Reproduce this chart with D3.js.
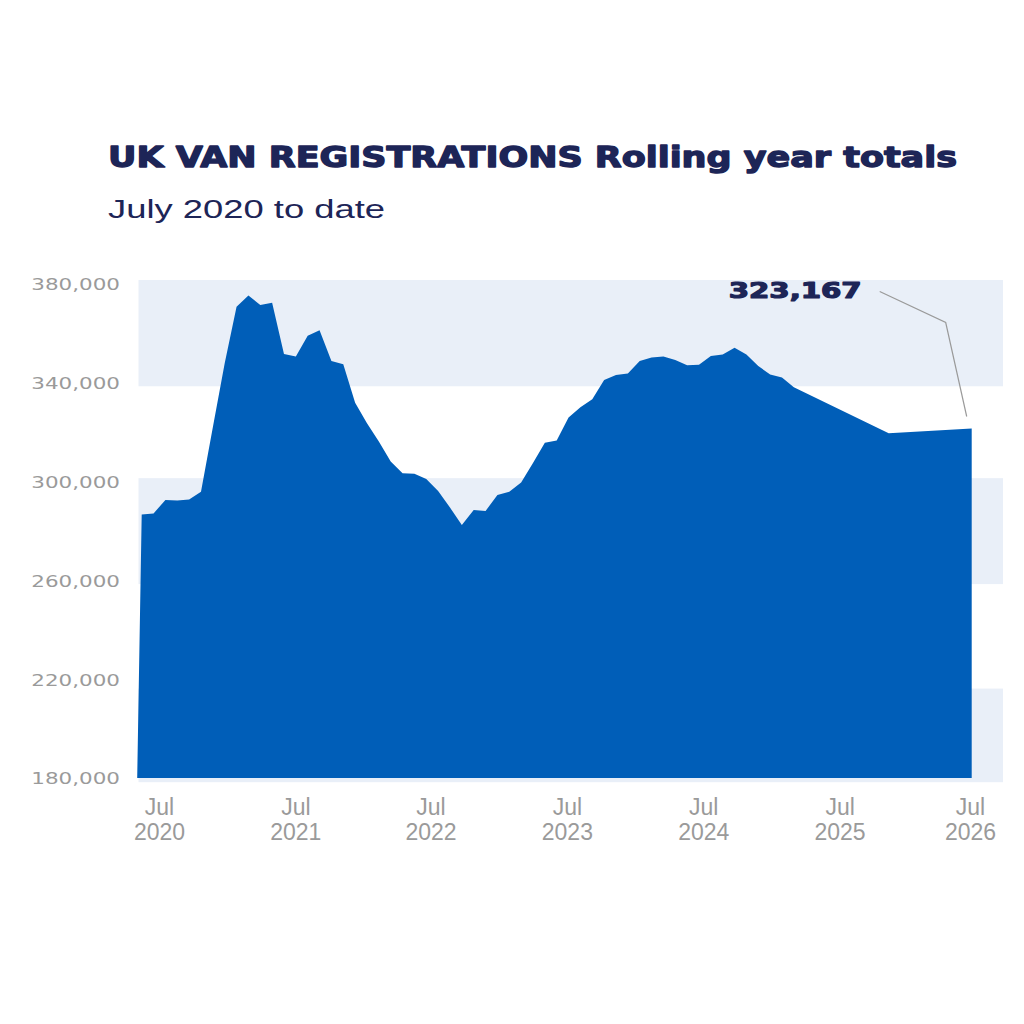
<!DOCTYPE html>
<html><head><meta charset="utf-8">
<script src="https://cdn.jsdelivr.net/npm/d3@7"></script>
<style>html,body{margin:0;padding:0;background:#fff;} svg{display:block;}</style>
</head><body>
<svg id="chart" width="1024" height="1024"></svg>
<script>
// ---------- data ----------
const titleText = "UK VAN REGISTRATIONS Rolling year totals";
const subtitleText = "July 2020 to date";
const periods = [0,1,2,3,4,5,6,7,8,9,10,11,12,13,14,15,16,17,18,19,20,21,22,23,24,25,26,27,28,29,
  30,31,32,33,34,35,36,37,38,39,40,41,42,43,44,45,46,47,48,49,50,51,52,53,54,55,63,70];
const registrations = [286700,287100,292600,292300,292800,295900,322000,347900,370800,375300,
  371500,372400,351700,350600,359000,361300,348800,347500,331900,323600,
  316200,308100,303400,303200,301100,296200,289500,282400,288500,288100,
  294600,295900,299600,307500,315700,316600,326000,330100,333300,341100,
  343200,343800,348800,350200,350600,349200,347100,347300,350900,351500,
  354200,351500,346800,343400,342100,338200,319600,321500];
const yTicks = [180000,220000,260000,300000,340000,380000];
const bandRanges = [[381600,338600],[301400,258500],[216200,178300]];
const xTickPositions = [1.5,13.0,24.4,35.9,47.4,58.9,69.9];
const xTickMonths = ["Jul","Jul","Jul","Jul","Jul","Jul","Jul"];
const xTickYears = ["2020","2021","2022","2023","2024","2025","2026"];
const latestLabel = "323,167";

// ---------- layout ----------
const navy = "#1d2557", blue = "#005eb8", band = "#e9eff8", grey = "#9a9a9a";
const svg = d3.select("#chart");
const x = d3.scaleLinear().domain([0, 70]).range([141.7, 971.7]);
const y = d3.scaleLinear().domain([180000, 380000]).range([778, 284]);
const data = periods.map((p, i) => ({p, v: registrations[i]}));

function stretch(sel, target) {
  sel.each(function() {
    const len = this.getComputedTextLength();
    const t = typeof target === "function" ? target(len) : target;
    d3.select(this).attr("textLength", t).attr("lengthAdjust", "spacingAndGlyphs");
  });
}

// bands
svg.append("g").selectAll("rect").data(bandRanges).join("rect")
  .attr("x", 138.5).attr("width", 1003 - 138.5)
  .attr("y", d => y(d[0])).attr("height", d => y(d[1]) - y(d[0]))
  .attr("fill", band);

// area (baseline of first point sits slightly left, as in the original)
const area = d3.area()
  .x0((d, i) => i === 0 ? x(d.p) - 4.5 : x(d.p))
  .x1(d => x(d.p))
  .y0(y(180000)).y1(d => y(d.v)).curve(d3.curveLinear);
svg.append("path").datum(data).attr("d", area).attr("fill", blue);

// y axis
const yAxis = svg.append("g").attr("transform", "translate(138,0)")
  .call(d3.axisLeft(y).tickValues(yTicks).tickSize(0).tickPadding(18).tickFormat(d3.format(",")));
yAxis.select(".domain").remove();
yAxis.selectAll("text")
  .attr("fill", grey).attr("dy", "0.36em")
  .style("font-family", "'DejaVu Sans', sans-serif").style("font-size", "16.5px");
stretch(yAxis.selectAll("text"), len => len * 1.3);

// x axis labels
const xg = svg.append("g");
xg.selectAll("text.m").data(xTickPositions).join("text").attr("class", "m")
  .attr("x", d => x(d)).attr("y", 815).attr("text-anchor", "middle")
  .attr("fill", grey).style("font-family", "'Liberation Sans', Arial, sans-serif").style("font-size", "23px")
  .text((d, i) => xTickMonths[i]);
xg.selectAll("text.yr").data(xTickPositions).join("text").attr("class", "yr")
  .attr("x", d => x(d)).attr("y", 840).attr("text-anchor", "middle")
  .attr("fill", grey).style("font-family", "'Liberation Sans', Arial, sans-serif").style("font-size", "23px")
  .text((d, i) => xTickYears[i]);

// title & subtitle
const title = svg.append("text").attr("x", 108).attr("y", 167)
  .attr("fill", navy).attr("stroke", navy).attr("stroke-width", 1.3).attr("stroke-linejoin", "round")
  .style("font-family", "'DejaVu Sans', sans-serif").style("font-weight", "bold").style("font-size", "27.5px")
  .text(titleText);
stretch(title, 849);
const sub = svg.append("text").attr("x", 108).attr("y", 218)
  .attr("fill", navy)
  .style("font-family", "'Liberation Sans', Arial, sans-serif").style("font-size", "25px")
  .text(subtitleText);
stretch(sub, 277);

// annotation for latest value
const last = data[data.length - 1];
const lx = x(last.p), ly = y(last.v);
svg.append("polyline")
  .attr("points", [[lx - 92, ly - 137], [lx - 26, ly - 106], [lx - 5, ly - 12]].map(p => p.join(",")).join(" "))
  .attr("fill", "none").attr("stroke", grey).attr("stroke-width", 1.2);
const ann = svg.append("text").attr("x", lx - 110).attr("y", ly - 130.5).attr("text-anchor", "end")
  .attr("fill", navy).attr("stroke", navy).attr("stroke-width", 1.2).attr("stroke-linejoin", "round")
  .style("font-family", "'DejaVu Sans', sans-serif").style("font-weight", "bold").style("font-size", "21px")
  .text(latestLabel);
stretch(ann, 133);
</script>
</body></html>
